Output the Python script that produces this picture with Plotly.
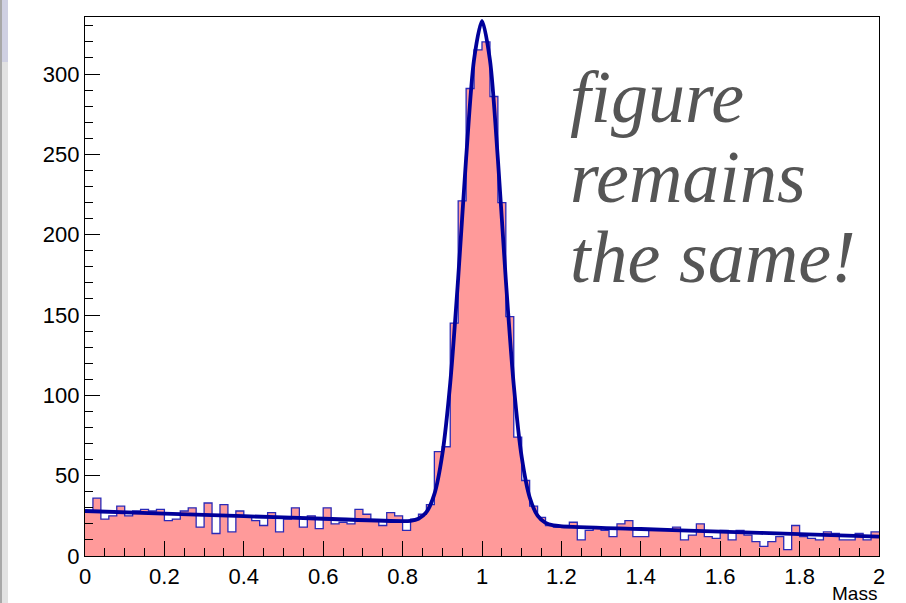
import numpy as np
import plotly.graph_objects as go

# ---------------- data ----------------
x_min, x_max, n_bins = 0.0, 2.0, 100
counts = [
    28, 36, 23, 25, 31, 25, 28, 29, 28, 29,
    22, 23, 28, 30, 18, 33, 14, 32, 15, 28,
    24, 22, 19, 27, 15, 23, 30, 18, 25, 17,
    30, 20, 21, 20, 29, 26, 22, 19, 27, 25,
    16, 23, 26, 32, 65, 68, 145, 221, 291, 315,
    320, 286, 220, 149, 74, 47, 31, 24, 19, 18,
    19, 21, 10, 16, 18, 16, 12, 20, 22, 12,
    12, 16, 16, 16, 18, 10, 13, 20, 12, 11,
    16, 10, 16, 13, 9, 6, 9, 12, 4, 19,
    12, 11, 10, 15, 14, 10, 10, 14, 10, 15,
]
fit_x = [0.0, 0.2, 0.4, 0.6, 0.8, 0.82, 0.84, 0.86, 0.88, 0.90, 0.92, 0.94,
         0.96, 0.98, 1.00, 1.02, 1.04, 1.06, 1.08, 1.10, 1.12, 1.14, 1.16,
         1.18, 1.2, 1.4, 1.6, 1.8, 2.0]
fit_y = [28.0, 26.4, 24.8, 23.2, 21.7, 21.9, 23.2, 27.3, 38.5, 63.2, 107.7,
         172.9, 247.6, 309.1, 333.0, 308.7, 247.0, 171.9, 106.4, 61.6, 36.6,
         25.1, 20.6, 19.0, 18.5, 16.8, 15.2, 13.6, 12.0]
x_title = "Mass"
note_lines = ["figure", "remains", "the same!"]
y_top = 335.5

# ---------------- figure ----------------
W, H = 906, 603
ML, MR, MT, MB = 85, 27, 17, 47
PW, PH = W - ML - MR, H - MT - MB

edges = np.linspace(x_min, x_max, n_bins + 1)
step_y = list(counts) + [counts[-1]]

fig = go.Figure()
fig.add_trace(go.Scatter(
    x=edges, y=step_y, mode="lines", line_shape="hv",
    line=dict(color="#2a2ab8", width=1.3),
    fill="tozeroy", fillcolor="#ff9a9a", hoverinfo="skip", showlegend=False,
))
fig.add_trace(go.Scatter(
    x=fit_x, y=fit_y, mode="lines", line_shape="spline",
    line=dict(color="#00009a", width=3.8, smoothing=0.8),
    hoverinfo="skip", showlegend=False,
))

tick_font = dict(family="Liberation Sans, Arial, sans-serif", size=22, color="black")
fig.update_xaxes(
    range=[x_min, x_max], dtick=0.2, tick0=0,
    ticks="inside", ticklen=15, tickwidth=1, tickcolor="black",
    minor=dict(dtick=0.05, ticks="inside", ticklen=8, tickcolor="black", tickwidth=1),
    showline=True, linecolor="black", linewidth=1.2, mirror=True,
    showgrid=False, zeroline=False, tickfont=tick_font,
)
fig.update_yaxes(
    range=[0, y_top], dtick=50, tick0=0,
    ticks="inside", ticklen=15, tickwidth=1, tickcolor="black",
    minor=dict(dtick=10, ticks="inside", ticklen=8, tickcolor="black", tickwidth=1),
    showline=True, linecolor="black", linewidth=1.2, mirror=True,
    showgrid=False, zeroline=False, tickfont=tick_font,
)

def px_x(p):
    return (p - ML) / PW

def px_y(p):
    return (H - MB - p) / PH

annotations = [dict(
    text=x_title, xref="paper", yref="paper", x=1.0, y=px_y(593),
    xanchor="right", yanchor="middle", showarrow=False,
    font=dict(family="Liberation Sans, Arial, sans-serif", size=19, color="black"),
)]
for line, mid in zip(note_lines, [97, 177, 257]):
    annotations.append(dict(
        text="<i>%s</i>" % line, xref="paper", yref="paper", x=px_x(568), y=px_y(mid),
        xanchor="left", yanchor="middle", showarrow=False,
        font=dict(family="Liberation Serif, DejaVu Serif, serif", size=74, color="#555555"),
    ))

shapes = [
    dict(type="rect", xref="paper", yref="paper", x0=px_x(0), x1=px_x(8),
         y0=px_y(H), y1=px_y(0), fillcolor="#e2e2e2", line_width=0, layer="below"),
    dict(type="rect", xref="paper", yref="paper", x0=px_x(2), x1=px_x(8),
         y0=px_y(62), y1=px_y(0), fillcolor="#cfd0e2", line_width=0, layer="below"),
    dict(type="rect", xref="paper", yref="paper", x0=px_x(0), x1=px_x(2),
         y0=px_y(H), y1=px_y(0), fillcolor="#a8a8a8", line_width=0, layer="below"),
]

fig.update_layout(
    width=W, height=H,
    margin=dict(l=ML, r=MR, t=MT, b=MB, pad=0),
    paper_bgcolor="white", plot_bgcolor="white",
    annotations=annotations, shapes=shapes,
    showlegend=False,
)

fig.write_html("out.html")
